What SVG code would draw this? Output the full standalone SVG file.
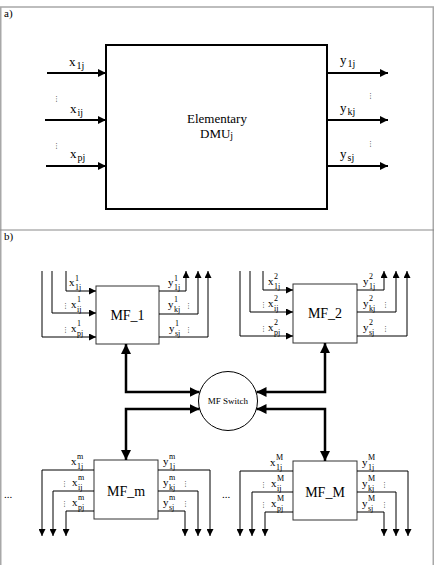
<svg xmlns="http://www.w3.org/2000/svg" width="435" height="565" viewBox="0 0 435 565">
<style>
text{font-family:"Liberation Serif","Times New Roman",serif;fill:#000}
.b{font-size:11px}
.s{font-size:8px}
.a{font-size:13px}
.as{font-size:10px}
.d{font-family:"DejaVu Sans",sans-serif;font-size:7px;fill:#000}
.thin{fill:none;stroke:#000;stroke-width:1;marker-end:url(#t)}
.thick{fill:none;stroke:#000;stroke-width:2.5;marker-start:url(#k);marker-end:url(#k)}
.aa{stroke:#000;stroke-width:2;marker-end:url(#m)}
.mf{fill:#fff;stroke:#333;stroke-width:1}
</style>
<defs>
<marker id="m" viewBox="0 0 10 10" refX="10" refY="5" markerWidth="9" markerHeight="8" markerUnits="userSpaceOnUse" orient="auto"><path d="M0,0L10,5L0,10z"/></marker>
<marker id="t" viewBox="0 0 10 10" refX="10" refY="5" markerWidth="7" markerHeight="7" markerUnits="userSpaceOnUse" orient="auto"><path d="M0,0L10,5L0,10z"/></marker>
<marker id="k" viewBox="0 0 10 10" refX="10" refY="5" markerWidth="10" markerHeight="10" markerUnits="userSpaceOnUse" orient="auto-start-reverse"><path d="M0,0L10,5L0,10z"/></marker>
</defs>
<rect x="0.75" y="7" width="432.5" height="570" fill="none" stroke="#a8a8a8" stroke-width="1.5"/>
<line x1="0" y1="230" x2="434" y2="230" stroke="#8a8a8a" stroke-width="1.2"/>
<text x="4" y="17" class="b">a)</text>
<text x="4" y="240" class="b">b)</text>

<g id="dmu">
<rect x="106" y="45" width="221" height="164" fill="#fff" stroke="#000" stroke-width="2"/>
<text x="217" y="123" class="a" text-anchor="middle">Elementary</text>
<text x="200" y="138" class="a">DMU<tspan class="as" dy="1">j</tspan></text>
</g>
<g id="connectors-a">
<line x1="47" y1="73" x2="106" y2="73" class="aa"/>
<line x1="45" y1="120" x2="106" y2="120" class="aa"/>
<line x1="46" y1="166" x2="106" y2="166" class="aa"/>
<line x1="327" y1="73" x2="388" y2="73" class="aa"/>
<line x1="327" y1="120" x2="388" y2="120" class="aa"/>
<line x1="327" y1="166" x2="388" y2="166" class="aa"/>
</g>
<g id="labels-a">
<text x="69" y="66" class="a">x<tspan class="as" dx="1" dy="3">1j</tspan></text>
<text x="70" y="113" class="a">x<tspan class="as" dx="1" dy="3">ij</tspan></text>
<text x="70" y="158" class="a">x<tspan class="as" dx="1" dy="3">pj</tspan></text>
<text x="340" y="64" class="a">y<tspan class="as" dx="1" dy="3">1j</tspan></text>
<text x="340" y="112" class="a">y<tspan class="as" dx="1" dy="3">kj</tspan></text>
<text x="340" y="158" class="a">y<tspan class="as" dx="1" dy="3">sj</tspan></text>
<text x="53" y="101" class="d">⋮</text>
<text x="53" y="148" class="d">⋮</text>
<text x="367" y="98" class="d">⋮</text>
<text x="367" y="146" class="d">⋮</text>
</g>

<g id="mf1">
<rect x="96" y="286" width="63" height="58" class="mf"/>
<text x="127.5" y="320" font-size="14" text-anchor="middle">MF_1</text>
<text><tspan class="b" x="69" y="286">x</tspan><tspan class="s" x="75" y="281">1</tspan><tspan class="s" x="75" y="290">1j</tspan></text>
<text x="62" y="308" class="d">⋮</text>
<text><tspan class="b" x="71" y="308">x</tspan><tspan class="s" x="77" y="302">1</tspan><tspan class="s" x="77" y="312">ij</tspan></text>
<text x="62" y="332" class="d">⋮</text>
<text><tspan class="b" x="71" y="332">x</tspan><tspan class="s" x="77" y="326">1</tspan><tspan class="s" x="77" y="336">pj</tspan></text>
<text><tspan class="b" x="168" y="286">y</tspan><tspan class="s" x="174" y="281">1</tspan><tspan class="s" x="174" y="290">1j</tspan></text>
<text><tspan class="b" x="168" y="308">y</tspan><tspan class="s" x="174" y="302">1</tspan><tspan class="s" x="174" y="312">kj</tspan></text>
<text x="185" y="308" class="d">⋮</text>
<text><tspan class="b" x="169" y="332">y</tspan><tspan class="s" x="175" y="326">1</tspan><tspan class="s" x="175" y="336">sj</tspan></text>
<text x="185" y="332" class="d">⋮</text>
</g>

<g id="mf2">
<rect x="293" y="284" width="64" height="59" class="mf"/>
<text x="325" y="318" font-size="14" text-anchor="middle">MF_2</text>
<text><tspan class="b" x="268" y="285">x</tspan><tspan class="s" x="274" y="279">2</tspan><tspan class="s" x="274" y="289">1j</tspan></text>
<text x="260" y="307" class="d">⋮</text>
<text><tspan class="b" x="268" y="307">x</tspan><tspan class="s" x="274" y="301">2</tspan><tspan class="s" x="274" y="311">ij</tspan></text>
<text x="260" y="331" class="d">⋮</text>
<text><tspan class="b" x="268" y="331">x</tspan><tspan class="s" x="274" y="325">2</tspan><tspan class="s" x="274" y="335">pj</tspan></text>
<text><tspan class="b" x="363" y="285">y</tspan><tspan class="s" x="369" y="279">2</tspan><tspan class="s" x="369" y="289">1j</tspan></text>
<text><tspan class="b" x="363" y="307">y</tspan><tspan class="s" x="369" y="301">2</tspan><tspan class="s" x="369" y="311">kj</tspan></text>
<text x="382" y="307" class="d">⋮</text>
<text><tspan class="b" x="363" y="331">y</tspan><tspan class="s" x="369" y="325">2</tspan><tspan class="s" x="369" y="335">sj</tspan></text>
<text x="382" y="331" class="d">⋮</text>
</g>

<g id="mfm">
<rect x="94" y="460" width="64" height="59" class="mf"/>
<text x="126" y="496" font-size="14" text-anchor="middle">MF_m</text>
<text><tspan class="b" x="71" y="465">x</tspan><tspan class="s" x="77" y="459">m</tspan><tspan class="s" x="77" y="469">1j</tspan></text>
<text x="61" y="486" class="d">⋮</text>
<text><tspan class="b" x="72" y="486">x</tspan><tspan class="s" x="78" y="480">m</tspan><tspan class="s" x="78" y="490">ij</tspan></text>
<text x="61" y="506" class="d">⋮</text>
<text><tspan class="b" x="72" y="506">x</tspan><tspan class="s" x="78" y="500">m</tspan><tspan class="s" x="78" y="510">pj</tspan></text>
<text><tspan class="b" x="163" y="465">y</tspan><tspan class="s" x="169" y="459">m</tspan><tspan class="s" x="169" y="469">1j</tspan></text>
<text><tspan class="b" x="163" y="486">y</tspan><tspan class="s" x="169" y="480">m</tspan><tspan class="s" x="169" y="490">kj</tspan></text>
<text x="182" y="486" class="d">⋮</text>
<text><tspan class="b" x="163" y="506">y</tspan><tspan class="s" x="169" y="500">m</tspan><tspan class="s" x="169" y="510">sj</tspan></text>
<text x="182" y="506" class="d">⋮</text>
</g>

<g id="mfM">
<rect x="293" y="461" width="64" height="59" class="mf"/>
<text x="325" y="497" font-size="14" text-anchor="middle">MF_M</text>
<text><tspan class="b" x="270" y="466">x</tspan><tspan class="s" x="276" y="460">M</tspan><tspan class="s" x="276" y="470">1j</tspan></text>
<text x="260" y="487" class="d">⋮</text>
<text><tspan class="b" x="271" y="487">x</tspan><tspan class="s" x="277" y="481">M</tspan><tspan class="s" x="277" y="491">ij</tspan></text>
<text x="260" y="507" class="d">⋮</text>
<text><tspan class="b" x="271" y="507">x</tspan><tspan class="s" x="277" y="501">M</tspan><tspan class="s" x="277" y="511">pj</tspan></text>
<text><tspan class="b" x="362" y="466">y</tspan><tspan class="s" x="368" y="460">M</tspan><tspan class="s" x="368" y="470">1j</tspan></text>
<text><tspan class="b" x="362" y="487">y</tspan><tspan class="s" x="368" y="481">M</tspan><tspan class="s" x="368" y="491">kj</tspan></text>
<text x="381" y="487" class="d">⋮</text>
<text><tspan class="b" x="362" y="507">y</tspan><tspan class="s" x="368" y="501">M</tspan><tspan class="s" x="368" y="511">sj</tspan></text>
<text x="381" y="507" class="d">⋮</text>
</g>

<g id="switch">
<circle cx="228" cy="401" r="29.5" fill="#fff" stroke="#000" stroke-width="1"/>
<text x="228" y="404" font-size="9" text-anchor="middle">MF Switch</text>
</g>

<g id="ellipses">
<text x="4" y="498" class="b">...</text>
<text x="222" y="498" class="b">...</text>
</g>

<g id="connectors-b">
<path d="M66,271V291H96" class="thin"/>
<path d="M52,271V313H96" class="thin"/>
<path d="M42,271V337H96" class="thin"/>
<path d="M159,291H186V271" class="thin"/>
<path d="M159,314H198V271" class="thin"/>
<path d="M159,337H208V271" class="thin"/>

<path d="M263,271V290H293" class="thin"/>
<path d="M250,271V312H293" class="thin"/>
<path d="M240,271V336H293" class="thin"/>
<path d="M357,290H384V271" class="thin"/>
<path d="M357,312H396V271" class="thin"/>
<path d="M357,336H407V271" class="thin"/>

<path d="M94,470H42V536" class="thin"/>
<path d="M94,491H53V536" class="thin"/>
<path d="M94,511H66V536" class="thin"/>
<path d="M158,470H210V536" class="thin"/>
<path d="M158,491H198V536" class="thin"/>
<path d="M158,511H185V536" class="thin"/>

<path d="M293,471H240V536" class="thin"/>
<path d="M293,492H252V536" class="thin"/>
<path d="M293,512H265V536" class="thin"/>
<path d="M357,471H408V536" class="thin"/>
<path d="M357,492H396V536" class="thin"/>
<path d="M357,512H384V536" class="thin"/>

<path d="M126,344V392H199.5" class="thick"/>
<path d="M199.5,409H126V460" class="thick"/>
<path d="M325,343V392H256.5" class="thick"/>
<path d="M256.5,409H325V461" class="thick"/>
</g>
</svg>
